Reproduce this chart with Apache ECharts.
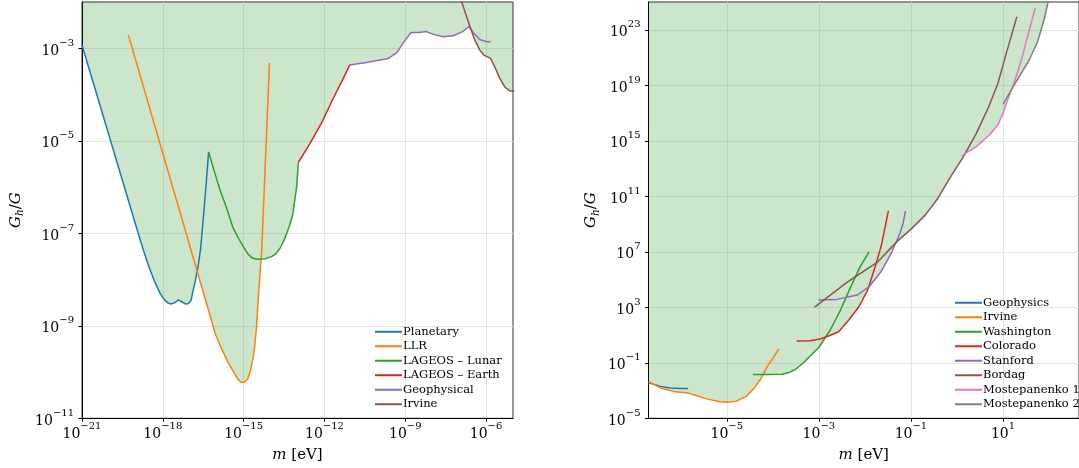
<!DOCTYPE html>
<html>
<head>
<meta charset="utf-8">
<script src="https://cdn.jsdelivr.net/npm/echarts@6/dist/echarts.min.js"></script>
<style>
  html, body { margin: 0; padding: 0; background: #fff; }
  #chart { width: 1079px; height: 468px; }
</style>
</head>
<body>
<div id="chart"></div>
<script>
// All curves are stored as (log10 m [eV], log10 Gh/G) pairs.

// ---- Left panel: long-range bounds ----
const planetaryLogM = [-21, -20, -19, -18.73, -18.5, -18.3, -18.1, -17.95, -17.8, -17.7, -17.55, -17.42, -17.3, -17.15, -17.05, -16.95, -16.9, -16.8, -16.7, -16.6, -16.5, -16.4, -16.3];
const planetaryLogG = [-2.93, -4.88, -6.83, -7.35, -7.75, -8.05, -8.3, -8.43, -8.51, -8.53, -8.5, -8.44, -8.48, -8.53, -8.52, -8.45, -8.3, -8.05, -7.75, -7.35, -6.7, -6.0, -5.24];

const llrLogM = [-19.28, -18.0, -17.0, -16.5, -16.2, -16.06, -15.9, -15.74, -15.58, -15.42, -15.23, -15.1, -14.97, -14.84, -14.74, -14.65, -14.59, -14.52, -14.46, -14.39, -14.33, -14.2, -14.04];
const llrLogG = [-2.71, -5.27, -7.27, -8.27, -8.87, -9.16, -9.39, -9.59, -9.79, -9.95, -10.14, -10.22, -10.22, -10.14, -9.95, -9.7, -9.45, -9.02, -8.44, -7.86, -7.4, -5.56, -3.32];

const lunarLogM = [-16.3, -16.1, -15.88, -15.63, -15.41, -15.2, -15.01, -14.85, -14.7, -14.5, -14.2, -13.95, -13.8, -13.65, -13.47, -13.31, -13.18, -13.03, -12.97];
const lunarLogG = [-5.24, -5.64, -6.06, -6.46, -6.86, -7.1, -7.29, -7.44, -7.53, -7.56, -7.55, -7.5, -7.44, -7.33, -7.11, -6.86, -6.61, -5.99, -5.47];

const earthLogM = [-12.97, -12.54, -12.11, -11.67, -11.3, -11.06];
const earthLogG = [-5.47, -5.06, -4.62, -4.08, -3.65, -3.36];

const geophysicalLogM = [-11.06, -10.44, -9.63, -9.32, -9.08, -8.79, -8.52, -8.21, -7.96, -7.59, -7.22, -6.87, -6.63, -6.48, -6.23, -5.98, -5.83];
const geophysicalLogG = [-3.36, -3.31, -3.22, -3.1, -2.89, -2.66, -2.66, -2.64, -2.7, -2.75, -2.73, -2.64, -2.53, -2.66, -2.81, -2.86, -2.86];

const irvineLeftLogM = [-7.0, -6.91, -6.6, -6.42, -6.23, -6.08, -5.83, -5.68, -5.49, -5.3, -5.12, -4.95];
const irvineLeftLogG = [-1.84, -1.99, -2.53, -2.82, -3.04, -3.15, -3.22, -3.4, -3.65, -3.84, -3.92, -3.93];

// ---- Right panel: short-range bounds ----
const geophysicsLogM = [-6.7, -6.44, -6.23, -6.0, -5.84];
const geophysicsLogG = [-2.43, -2.7, -2.81, -2.85, -2.86];

const irvineRightLogM = [-6.7, -6.44, -6.16, -5.84, -5.65, -5.44, -5.15, -4.99, -4.8, -4.58, -4.4, -4.26, -4.12, -3.97, -3.87];
const irvineRightLogG = [-2.36, -2.81, -3.06, -3.17, -3.37, -3.6, -3.8, -3.85, -3.78, -3.42, -2.81, -2.16, -1.26, -0.54, 0.0];

const washingtonLogM = [-4.43, -4.1, -3.8, -3.65, -3.51, -3.35, -3.22, -3.0, -2.75, -2.53, -2.31, -2.1, -1.91];
const washingtonLogG = [-1.85, -1.85, -1.83, -1.7, -1.47, -1.05, -0.62, 0.1, 1.38, 2.8, 4.45, 5.95, 7.0];

const coloradoLogM = [-3.48, -3.2, -2.97, -2.79, -2.57, -2.35, -2.13, -1.94, -1.8, -1.65, -1.56, -1.49];
const coloradoLogG = [0.57, 0.59, 0.71, 0.93, 1.24, 2.08, 3.04, 4.24, 5.68, 7.36, 8.8, 9.95];

const stanfordLogM = [-3.01, -2.61, -2.17, -1.91, -1.65, -1.43, -1.24, -1.17, -1.12];
const stanfordLogG = [3.52, 3.57, 3.88, 4.48, 5.56, 6.88, 8.32, 9.04, 9.95];

const bordagLogM = [-3.1, -2.39, -1.72, -1.3, -1.02, -0.69, -0.43, -0.15, 0.14, 0.42, 0.68, 0.89, 1.07, 1.3];
const bordagLogG = [2.99, 4.8, 6.28, 7.75, 8.56, 9.64, 10.78, 12.35, 13.86, 15.53, 17.38, 19.15, 21.3, 23.94];

const mostepanenko1LogM = [0.1, 0.42, 0.71, 0.89, 1.0, 1.1, 1.21, 1.32, 1.43, 1.53, 1.7];
const mostepanenko1LogG = [13.91, 14.58, 15.43, 16.15, 16.99, 17.94, 18.9, 19.98, 21.18, 22.5, 24.55];

const mostepanenko2LogM = [1.0, 1.18, 1.35, 1.57, 1.75, 1.89, 1.98, 2.05];
const mostepanenko2LogG = [17.63, 18.66, 19.62, 20.82, 22.14, 23.7, 25.02, 26.0];

// Tick positions (decade exponents)
const leftXTicks = [-21, -18, -15, -12, -9, -6];
const leftYTicks = [-11, -9, -7, -5, -3];
const rightXTicks = [-5, -3, -1, 1];
const rightYTicks = [-5, -1, 3, 7, 11, 15, 19, 23];

// Axis ranges (decade exponents)
const leftXRange = [-21, -5];
const leftYRange = [-11, -2];
const rightXRange = [-6.7, 2.65];
const rightYRange = [-5, 25];

const FONT = 'DejaVu Serif';
const COLORS = ['#1f77b4', '#ff7f0e', '#2ca02c', '#d62728', '#9467bd', '#8c564b', '#e377c2', '#7f7f7f'];

const leftCurves = [
  { name: 'Planetary', m: planetaryLogM, g: planetaryLogG },
  { name: 'LLR', m: llrLogM, g: llrLogG },
  { name: 'LAGEOS – Lunar', m: lunarLogM, g: lunarLogG },
  { name: 'LAGEOS – Earth', m: earthLogM, g: earthLogG },
  { name: 'Geophysical', m: geophysicalLogM, g: geophysicalLogG },
  { name: 'Irvine', m: irvineLeftLogM, g: irvineLeftLogG }
];
const rightCurves = [
  { name: 'Geophysics', m: geophysicsLogM, g: geophysicsLogG },
  { name: 'Irvine', m: irvineRightLogM, g: irvineRightLogG },
  { name: 'Washington', m: washingtonLogM, g: washingtonLogG },
  { name: 'Colorado', m: coloradoLogM, g: coloradoLogG },
  { name: 'Stanford', m: stanfordLogM, g: stanfordLogG },
  { name: 'Bordag', m: bordagLogM, g: bordagLogG },
  { name: 'Mostepanenko 1', m: mostepanenko1LogM, g: mostepanenko1LogG },
  { name: 'Mostepanenko 2', m: mostepanenko2LogM, g: mostepanenko2LogG }
];

const pw = e => Math.pow(10, e);
const toPairs = (m, g) => m.map((v, i) => [pw(v), pw(g[i])]);

// Linear interpolation in log-log space; undefined outside the curve's span
function interp(c, x) {
  const m = c.m, g = c.g, eps = 1e-9;
  if (x < m[0] - eps || x > m[m.length - 1] + eps) return undefined;
  for (let i = 0; i < m.length - 1; i++) {
    if (x <= m[i + 1] + eps) {
      const t = (x - m[i]) / (m[i + 1] - m[i]);
      return g[i] + Math.max(0, Math.min(1, t)) * (g[i + 1] - g[i]);
    }
  }
  return g[g.length - 1];
}

// Lower envelope of all bounds: everything above it is excluded
function envelope(curves, step) {
  const lo = Math.min(...curves.map(c => c.m[0]));
  const hi = Math.max(...curves.map(c => c.m[c.m.length - 1]));
  const n = Math.round((hi - lo) / step);
  const pts = [];
  for (let k = 0; k <= n; k++) {
    const x = k === n ? hi : lo + k * step;
    const vals = curves.map(c => interp(c, x)).filter(v => v !== undefined);
    if (vals.length) pts.push([pw(x), pw(Math.min(...vals))]);
  }
  return pts;
}

const powLabel = v => {
  const e = Math.round(Math.log10(v));
  return '{b|10}{s|' + (e < 0 ? '\u2212' + (-e) : String(e)) + '}';
};
const labelRich = {
  b: { fontFamily: FONT, fontSize: 14, lineHeight: 20, verticalAlign: 'bottom', color: '#000' },
  s: { fontFamily: FONT, fontSize: 10, lineHeight: 11, verticalAlign: 'top', color: '#000' }
};
const nameRich = {
  i: { fontFamily: FONT, fontStyle: 'italic', fontSize: 15, lineHeight: 20, color: '#000' },
  n: { fontFamily: FONT, fontSize: 15, lineHeight: 20, color: '#000' },
  sub: { fontFamily: FONT, fontStyle: 'italic', fontSize: 10.5, lineHeight: 12, verticalAlign: 'bottom', color: '#000' }
};

function logAxis(gridIndex, range, ticks, isX, name, nameGap, labelMargin) {
  const vals = ticks.map(pw);
  return {
    type: 'log', logBase: 10, gridIndex,
    min: pw(range[0] - 1e-7), max: pw(range[1] + 1e-7),
    name, nameLocation: 'middle', nameGap,
    nameRotate: isX ? 0 : 90,
    nameTextStyle: { rich: nameRich, fontFamily: FONT, fontSize: 15, color: '#000' },
    axisLine: { show: true, onZero: false, lineStyle: { color: '#000', width: 1 } },
    axisTick: { show: true, inside: false, length: 3.5, customValues: vals, lineStyle: { color: '#000', width: 1 } },
    minorTick: { show: false },
    axisLabel: { show: true, margin: labelMargin, customValues: vals, formatter: powLabel, rich: labelRich, hideOverlap: false },
    splitLine: { show: true, lineStyle: { color: '#e6e6e6', width: 1 } },
    minorSplitLine: { show: false }
  };
}

function curveSeries(curves, idx, prefix) {
  return curves.map((c, i) => ({
    name: prefix + c.name,
    type: 'line',
    xAxisIndex: idx, yAxisIndex: idx,
    data: toPairs(c.m, c.g),
    symbol: 'none', showSymbol: false, smooth: false,
    clip: true, z: 3,
    color: COLORS[i],
    lineStyle: { color: COLORS[i], width: 1.5 },
    emphasis: { disabled: true },
    silent: true
  }));
}

function fillSeries(curves, idx) {
  return {
    type: 'line',
    xAxisIndex: idx, yAxisIndex: idx,
    data: envelope(curves, 0.01),
    symbol: 'none', showSymbol: false,
    clip: true, z: 1,
    lineStyle: { width: 0, opacity: 0 },
    areaStyle: { color: 'rgba(0,128,0,0.2)', opacity: 1, origin: 'end' },
    emphasis: { disabled: true },
    silent: true
  };
}

function legendFor(curves, prefix, left, top) {
  return {
    orient: 'vertical', left, top, padding: 0,
    itemWidth: 27, itemHeight: 2, itemGap: 0,
    icon: 'rect',
    selectedMode: false,
    data: curves.map(c => prefix + c.name),
    formatter: n => n.slice(prefix.length),
    textStyle: { fontFamily: FONT, fontSize: 11.5, lineHeight: 14.5, color: '#000', padding: [0, 0, 0, -4] }
  };
}

const pxPerDecadeRightX = 46.6;
const option = {
  animation: false,
  backgroundColor: '#fff',
  textStyle: { fontFamily: FONT },
  grid: [
    { left: 82, top: 2, width: 431, height: 416.3, show: true, borderColor: '#333', borderWidth: 1, backgroundColor: 'transparent', containLabel: false },
    { left: 648.5, top: 2, width: (rightXRange[1] - rightXRange[0]) * pxPerDecadeRightX, height: 416.3, show: true, borderColor: '#333', borderWidth: 1, backgroundColor: 'transparent', containLabel: false }
  ],
  xAxis: [
    logAxis(0, leftXRange, leftXTicks, true, '{i|m}{n| [eV]}', 27, 3),
    logAxis(1, rightXRange, rightXTicks, true, '{i|m}{n| [eV]}', 27, 3)
  ],
  yAxis: [
    logAxis(0, leftYRange, leftYTicks, false, '{i|G}{sub|h}{n|/}{i|G}', 56, 8),
    logAxis(1, rightYRange, rightYTicks, false, '{i|G}{sub|h}{n|/}{i|G}', 47, 8)
  ],
  legend: [
    legendFor(leftCurves, 'L:', 375, 324.5),
    legendFor(rightCurves, 'R:', 955, 295.5)
  ],
  series: [
    fillSeries(leftCurves, 0),
    fillSeries(rightCurves, 1),
    ...curveSeries(leftCurves, 0, 'L:'),
    ...curveSeries(rightCurves, 1, 'R:')
  ]
};

const chart = echarts.init(document.getElementById('chart'), null, { renderer: 'canvas' });
chart.setOption(option);
</script>
</body>
</html>
